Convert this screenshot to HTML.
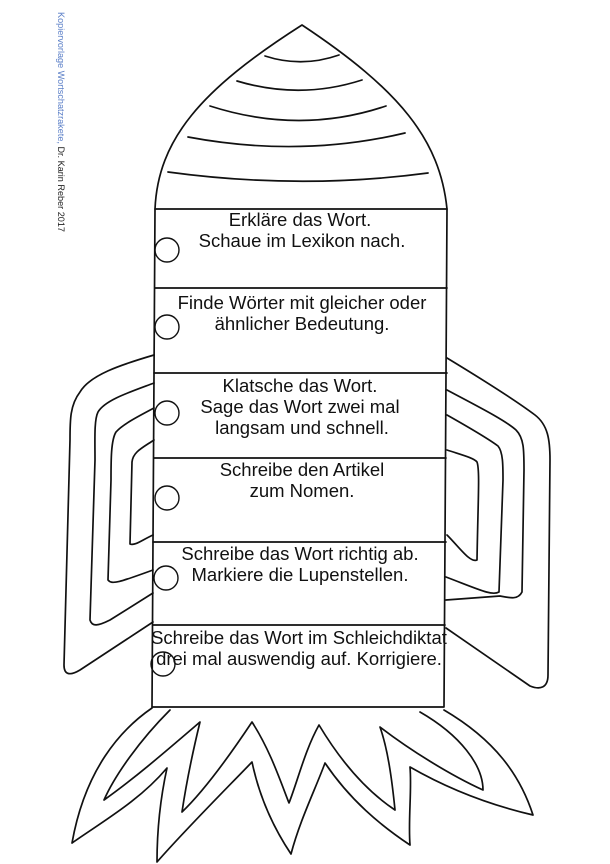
<!DOCTYPE html>
<html><head><meta charset="utf-8"><style>
html,body{margin:0;padding:0;background:#fff;}
svg{display:block;}
text{font-family:"Liberation Sans",Arial,sans-serif;}
</style></head><body>
<svg width="610" height="864" viewBox="0 0 610 864" xmlns="http://www.w3.org/2000/svg">
<rect width="610" height="864" fill="#fff"/>
<text transform="translate(58,12) rotate(90)" font-size="9" fill="#5b7fc7" textLength="220" lengthAdjust="spacingAndGlyphs">Kopiervorlage Wortschatzrakete, <tspan fill="#222">Dr. Karin Reber 2017</tspan></text>
<g fill="none" stroke="#111" stroke-width="1.7" stroke-linejoin="round" stroke-linecap="round">
<path d="M155,209 C158,140 200,90 302,25 C400,90 440,140 447,209"/>
<path d="M265,56 Q302,68 339,55"/>
<path d="M237,81 Q300,100 362,80"/>
<path d="M210,106 Q300,135 386,106"/>
<path d="M188,137 Q300,158 405,133"/>
<path d="M168,172 Q300,190 428,173"/>
<path d="M155,209 L152,707 L444,707 L447,209 Z"/>
<path d="M155,288 L447,288 M154,373 L447,373 M154,458 L446,458 M153,542 L446,542 M153,625 L445,625"/>
<g stroke-width="1.4">
<circle cx="167" cy="250" r="12"/><circle cx="167" cy="327" r="12"/>
<circle cx="167" cy="413" r="12"/><circle cx="167" cy="498" r="12"/>
<circle cx="166" cy="578" r="12"/><circle cx="163" cy="664" r="12"/>
</g>
<path d="M154,355 C120,365 90,375 80,392 C70,405 70,420 70,440 L64,665 C64,675 70,676 80,670 L153,622"/>
<path d="M154,383 C130,392 105,400 98,412 C94,420 95,440 95,460 L90,620 C92,627 98,626 110,620 L153,593"/>
<path d="M154,408 C135,418 122,425 116,432 C111,440 111,460 111,480 L108,580 C112,585 120,582 153,570"/>
<path d="M154,440 C142,448 133,452 132,462 L130,544 C135,546 142,540 153,535"/>
<path d="M447,358 C480,378 515,400 535,415 C548,425 550,440 550,460 L548,675 C548,688 540,690 530,686 L446,628"/>
<path d="M447,390 C475,405 505,420 516,430 C524,438 524,450 524,470 L522,592 C518,600 510,598 500,596 L446,600"/>
<path d="M447,415 C470,428 490,440 498,446 C503,452 503,465 503,480 L499,592 C492,596 480,590 446,577"/>
<path d="M447,450 C462,455 474,458 477,462 C480,470 478,500 477,560 C470,563 460,548 447,535"/>
<path d="M152,708 C120,730 85,770 72,843 C105,820 140,800 167,768 C160,800 157,830 157,862 C185,830 225,790 252,762 C260,800 275,830 291,854 C300,820 315,790 325,763 C350,800 380,825 410,845 C408,820 412,790 410,767 C450,790 490,805 533,815 C520,775 495,740 444,710"/>
<path d="M170,710 C140,740 115,775 104,800 C135,778 165,752 200,722 C192,755 186,785 182,812 C205,790 230,755 252,722 C270,750 280,780 289,803 C298,780 305,750 319,725 C340,760 365,790 395,810 C392,780 388,750 380,727 C410,750 450,775 483,790 C483,765 460,735 420,712"/>
</g>
<g font-size="18.5" fill="#111" text-anchor="middle">
<text x="300" y="226">Erkläre das Wort.</text>
<text x="302" y="247">Schaue im Lexikon nach.</text>
<text x="302" y="309">Finde Wörter mit gleicher oder</text>
<text x="302" y="330">ähnlicher Bedeutung.</text>
<text x="300" y="392">Klatsche das Wort.</text>
<text x="300" y="413">Sage das Wort zwei mal</text>
<text x="302" y="434">langsam und schnell.</text>
<text x="302" y="476">Schreibe den Artikel</text>
<text x="302" y="497">zum Nomen.</text>
<text x="300" y="560">Schreibe das Wort richtig ab.</text>
<text x="300" y="581">Markiere die Lupenstellen.</text>
<text x="299" y="644">Schreibe das Wort im Schleichdiktat</text>
<text x="299" y="665">drei mal auswendig auf. Korrigiere.</text>
</g>
</svg>
</body></html>
